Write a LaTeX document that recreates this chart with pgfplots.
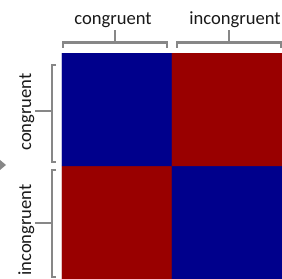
\documentclass[border=0pt]{standalone}
\usepackage{pgfplots}
\pgfplotsset{compat=1.18}
\usepackage{fontspec}
\setmainfont{Carlito}
\definecolor{brk}{RGB}{135,135,135}
\definecolor{txt}{RGB}{25,25,25}
\begin{document}
\begin{tikzpicture}[x=1pt,y=1pt]
\path[use as bounding box] (0,0) rectangle (282,279);
\begin{axis}[
  at={(62pt,0pt)}, anchor=south west,
  width=220pt, height=226pt, scale only axis,
  hide axis,
  xmin=-0.5, xmax=1.5, ymin=-0.5, ymax=1.5,
  colormap={rb}{rgb255=(153,0,0) rgb255=(0,0,140)},
  point meta min=0, point meta max=1,
]
\addplot[matrix plot*, mesh/cols=2, point meta=explicit, shader=flat corner]
  coordinates {(0,0) [0] (1,0) [1]
               (0,1) [1] (1,1) [0]};
\end{axis}
\tikzset{br/.style={brk, line width=2.4pt, line cap=butt, line join=miter}}
% top brackets
\draw[br] (63,231) -- (63,236.5) -- (167,236.5) -- (167,231);
\draw[br] (115,236.5) -- (115,249);
\draw[br] (177,231) -- (177,236.5) -- (281,236.5) -- (281,231);
\draw[br] (229,236.5) -- (229,249);
% left brackets
\draw[br] (56,214) -- (52,214) -- (52,117) -- (56,117);
\draw[br] (52,168) -- (35,168);
\draw[br] (56,109) -- (52,109) -- (52,2) -- (56,2);
\draw[br] (52,56) -- (35,56);
% arrow
\fill[brk] (0,109) -- (6,114) -- (0,119) -- cycle;
% labels
\node[txt, anchor=base, inner sep=0pt, font=\fontsize{18.6}{20}\selectfont] at (113,254) {congruent};
\node[txt, anchor=base, inner sep=0pt, font=\fontsize{18.6}{20}\selectfont] at (235,254) {incongruent};
\node[txt, anchor=base, rotate=90, inner sep=0pt, font=\fontsize{18.6}{20}\selectfont] at (31,167) {congruent};
\node[txt, anchor=base, rotate=90, inner sep=0pt, font=\fontsize{18.6}{20}\selectfont] at (31,49) {incongruent};
\end{tikzpicture}
\end{document}
